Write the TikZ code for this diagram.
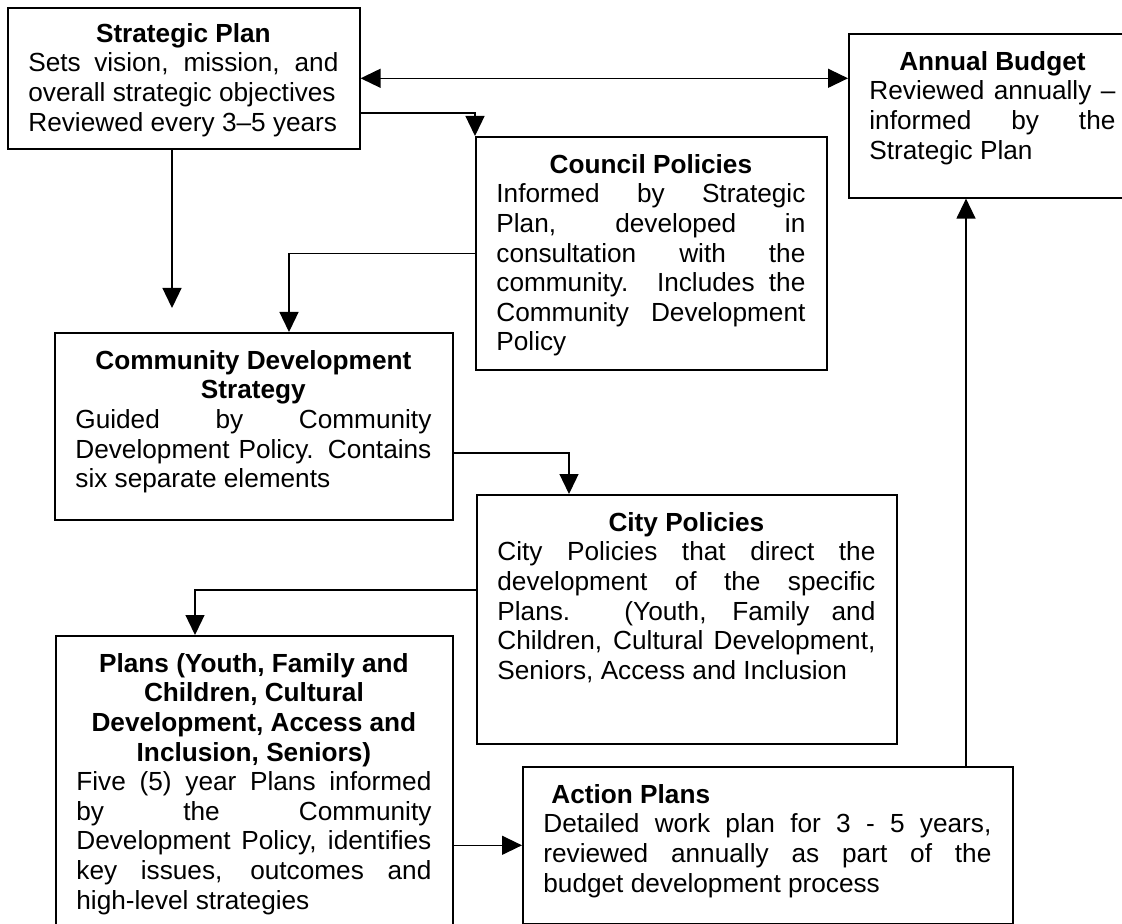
\documentclass[tikz,border=0pt]{standalone}
\usepackage{fontspec}
\setmainfont{Liberation Sans}
\usetikzlibrary{arrows.meta}
\setlength{\parindent}{0pt}
\hbadness=10000
\newcommand{\boxhead}[1]{{\centering\bfseries #1\par}}

\begin{document}
\begin{tikzpicture}[x=0.5pt, y=0.5pt, line join=miter,
    >={Triangle[length=10pt, width=9.5pt]},
    box/.style={draw, line width=0.8pt, inner sep=0pt, anchor=north west},
    boxtext/.style={anchor=north west, inner sep=0pt, align=justify, font=\fontsize{13.1}{14.8}\selectfont},
    link/.style={line width=0.65pt, ->}]
  \useasboundingbox (0,0) rectangle (1122,-924);
  \clip (0,0) rectangle (1122,-924);

  % Cajas
  \node[box, minimum width=176pt, minimum height=70.5pt] (strat) at (7,-7) {};
  \node[box, minimum width=140pt, minimum height=82pt] (budget) at (848,-33) {};
  \node[box, minimum width=175.5pt, minimum height=116.5pt] (council) at (475,-136) {};
  \node[box, minimum width=199pt, minimum height=93.5pt] (cds) at (54,-332) {};
  \node[box, minimum width=210pt, minimum height=124.5pt] (city) at (476,-494) {};
  \node[box, minimum width=198.5pt, minimum height=150pt] (plans) at (55,-635) {};
  \node[box, minimum width=245pt, minimum height=78.5pt] (action) at (522,-766) {};

  % Textos
  \node[boxtext, text width=155pt] (strattext) at ([xshift=10.5pt, yshift=-8pt]strat.north west)
    {\boxhead{Strategic Plan}Sets vision, mission, and\linebreak overall strategic objectives\par Reviewed every 3–5 years};
  \node[boxtext, text width=123pt] (budgettext) at ([xshift=10.5pt, yshift=-9pt]budget.north west)
    {\boxhead{Annual Budget}Reviewed annually –\linebreak informed by the\linebreak Strategic Plan};
  \node[boxtext, text width=154.5pt] (counciltext) at ([xshift=10.5pt, yshift=-9pt]council.north west)
    {\boxhead{Council Policies}Informed by Strategic\linebreak Plan, developed in\linebreak consultation with the\linebreak community.\ \ Includes the\linebreak Community Development\linebreak Policy};
  \node[boxtext, text width=178pt] (cdstext) at ([xshift=10.5pt, yshift=-9pt]cds.north west)
    {\boxhead{Community Development\par Strategy}Guided by Community\linebreak Development Policy. Contains\linebreak six separate elements};
  \node[boxtext, text width=189pt] (citytext) at ([xshift=10.5pt, yshift=-9pt]city.north west)
    {\boxhead{City Policies}City Policies that direct the\linebreak development of the specific\linebreak Plans. (Youth, Family and\linebreak Children, Cultural Development,\linebreak Seniors, Access and Inclusion};
  \node[boxtext, text width=177.5pt] (planstext) at ([xshift=10.5pt, yshift=-9pt]plans.north west)
    {\boxhead{Plans (Youth, Family and\par Children, Cultural\par Development, Access and\par Inclusion, Seniors)}Five (5) year Plans informed\linebreak by the Community\linebreak Development Policy, identifies\linebreak key issues, outcomes and\linebreak high-level strategies};
  \node[boxtext, text width=224pt] (actiontext) at ([xshift=10.5pt, yshift=-9pt]action.north west)
    {{\bfseries\hspace*{4pt}Action Plans\par}Detailed work plan for 3 - 5 years,\linebreak reviewed annually as part of the\linebreak budget development process};

  % Flechas
  \coordinate (stratend) at (172,-308);
  \draw[link, <->] (strat.east) -- (strat.east -| budget.west);
  \draw[link] (strat.east |- 0,-113) -| (council.north west);
  \draw[link] (strat.south -| stratend) -- (stratend);
  \draw[link] (council.west) -| (cds.north -| 289,0);
  \draw[link] (cds.east |- 0,-453) -| (city.north -| 569,0);
  \draw[link] (city.west |- 0,-590) -| (plans.north -| 195,0);
  \draw[link] (plans.east |- action.west) -- (action.west);
  \draw[link] (action.north -| 966,0) -- (budget.south -| 966,0);
\end{tikzpicture}
\end{document}
